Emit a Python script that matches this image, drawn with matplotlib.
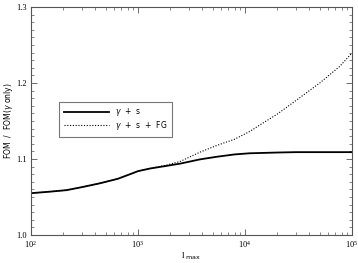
import matplotlib
matplotlib.use("Agg")
import matplotlib.pyplot as plt
from matplotlib.ticker import MultipleLocator, LogLocator, FixedLocator

# l_max values and FOM ratios
lmax_solid = [100, 150, 215, 300, 440, 650, 900, 1000, 1300, 1860, 2500,
              3800, 5500, 8000, 11000, 15000, 20000, 30000, 50000, 100000]
fom_solid = [1.055, 1.057, 1.059, 1.063, 1.068, 1.074, 1.0815, 1.084, 1.0875,
             1.091, 1.094, 1.0995, 1.103, 1.106, 1.1075, 1.108, 1.1085,
             1.109, 1.109, 1.109]

lmax_fg = [100, 150, 215, 300, 440, 650, 900, 1000, 1300, 1860, 2500, 3800,
           5500, 8000, 11000, 15000, 20000, 30000, 50000, 77000, 100000]
fom_fg = [1.055, 1.057, 1.059, 1.063, 1.068, 1.074, 1.0815, 1.084, 1.0875,
          1.092, 1.097, 1.109, 1.118, 1.126, 1.136, 1.148, 1.159, 1.177,
          1.200, 1.222, 1.2395]

labels = [r"$\gamma$  +  s", r"$\gamma$  +  s  +  FG"]

fig = plt.figure(figsize=(3.58, 2.63), dpi=100)
ax = fig.add_axes([0.0866, 0.1065, 0.8966, 0.867])

ax.plot(lmax_solid, fom_solid, color="black", lw=1.3, label=labels[0])
ax.plot(lmax_fg, fom_fg, color="black", lw=0.8, ls=(0, (1, 1.5)), label=labels[1])

ax.set_xscale("log")
ax.set_xlim(100, 1e5)
ax.set_ylim(1.0, 1.3)

ax.yaxis.set_major_locator(FixedLocator([1.0, 1.1, 1.2, 1.3]))
ax.yaxis.set_minor_locator(MultipleLocator(0.01))
ax.set_yticklabels(["1.0", "1.1", "1.2", "1.3"])
ax.xaxis.set_major_locator(LogLocator(base=10))
ax.xaxis.set_minor_locator(LogLocator(base=10, subs=range(2, 10)))

ax.tick_params(which="both", direction="in", top=True, right=True,
               color="#555555", labelsize=6, pad=3)
ax.tick_params(which="major", length=4, width=0.6)
ax.tick_params(which="minor", length=2, width=0.5)
for lbl in ax.get_xticklabels() + ax.get_yticklabels():
    lbl.set_family("Liberation Serif")
for sp in ax.spines.values():
    sp.set_color("#555555")
    sp.set_linewidth(0.8)

ax.set_xlabel(r"l $_{\rm max}$", fontsize=6.5, family="Liberation Serif", labelpad=0)
ax.set_ylabel(r"FOM  /  FOM($\gamma$ only)", fontsize=5.5, labelpad=1)

leg = ax.legend(loc="upper left", bbox_to_anchor=(0.087, 0.585), fontsize=5.5,
                frameon=True, fancybox=False, handlelength=6.0,
                handletextpad=0.8, borderpad=0.6, labelspacing=0.1,
                borderaxespad=0)
leg.get_frame().set_edgecolor("#555555")
leg.get_frame().set_linewidth(0.8)

fig.savefig("out.png", dpi=100)
